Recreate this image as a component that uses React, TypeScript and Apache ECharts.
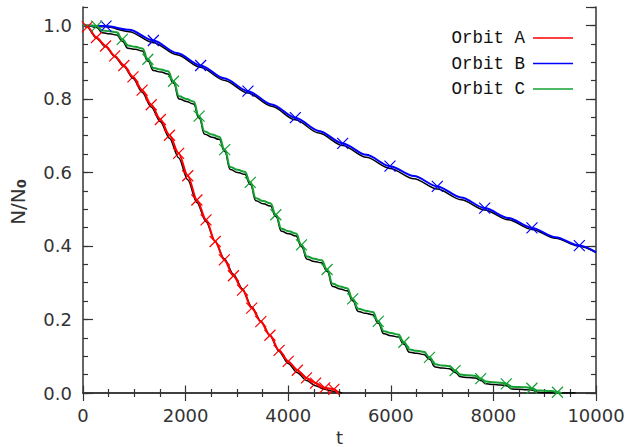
import React, { useEffect, useRef } from "react";
import * as echarts from "echarts";

// ---- data ----
const xTicks = [0, 2000, 4000, 6000, 8000, 10000];
const yTicks = [0.0, 0.2, 0.4, 0.6, 0.8, 1.0];
const legendNames = ["Orbit A", "Orbit B", "Orbit C"];

// Orbit A (red) curve and its markers
const orbitA: [number, number][] = [
  [0, 1.0], [84, 0.996], [262, 0.967], [440, 0.944], [618, 0.917], [796, 0.891],
  [974, 0.86], [1152, 0.824], [1330, 0.784], [1508, 0.744], [1686, 0.701],
  [1864, 0.652], [2042, 0.591], [2220, 0.525], [2398, 0.471], [2576, 0.412],
  [2754, 0.362], [2932, 0.319], [3110, 0.28], [3288, 0.231], [3466, 0.194],
  [3644, 0.157], [3822, 0.116], [4000, 0.086], [4178, 0.062], [4356, 0.041],
  [4534, 0.027], [4712, 0.014], [4890, 0.01], [4980, 0.0],
];
const orbitAMarkers: [number, number][] = [
  [84, 0.996], [262, 0.967], [440, 0.944], [618, 0.917], [796, 0.891],
  [974, 0.86], [1152, 0.824], [1330, 0.784], [1508, 0.744], [1686, 0.701],
  [1864, 0.652], [2042, 0.591], [2220, 0.525], [2398, 0.471], [2576, 0.412],
  [2754, 0.362], [2932, 0.319], [3110, 0.28], [3288, 0.231], [3466, 0.194],
  [3644, 0.157], [3822, 0.116], [4000, 0.086], [4178, 0.062], [4356, 0.041],
  [4534, 0.027], [4712, 0.014], [4890, 0.01],
];
const refA: [number, number][] = [
  [0, 1.0], [84, 0.995], [262, 0.965], [440, 0.942], [618, 0.915], [796, 0.888],
  [974, 0.856], [1152, 0.818], [1330, 0.778], [1508, 0.738], [1686, 0.693],
  [1864, 0.64], [2042, 0.58], [2220, 0.518], [2398, 0.466], [2576, 0.412],
  [2754, 0.365], [2932, 0.323], [3110, 0.283], [3288, 0.234], [3466, 0.196],
  [3644, 0.156], [3822, 0.113], [4000, 0.08], [4178, 0.055], [4356, 0.034],
  [4534, 0.02], [4712, 0.01], [4890, 0.004], [5050, 0.0],
];

// Orbit B (blue)
const orbitB: [number, number][] = [
  [0, 1.0], [448, 0.998], [900, 0.988], [1371, 0.959], [1830, 0.925], [2293, 0.891],
  [2750, 0.856], [3216, 0.821], [3680, 0.785], [4139, 0.749], [4600, 0.713],
  [5062, 0.679], [5520, 0.648], [5984, 0.617], [6450, 0.59], [6907, 0.562],
  [7370, 0.532], [7830, 0.503], [8290, 0.476], [8752, 0.449], [9210, 0.424],
  [9675, 0.401], [10000, 0.383],
];
const orbitBMarkers: [number, number][] = [
  [448, 0.998], [1371, 0.959], [2293, 0.891], [3216, 0.821], [4139, 0.749],
  [5062, 0.679], [5984, 0.617], [6907, 0.562], [7830, 0.503], [8752, 0.449],
  [9675, 0.401],
];
const refB: [number, number][] = [
  [0, 1.0], [448, 0.996], [900, 0.983], [1371, 0.953], [1830, 0.92], [2293, 0.886],
  [2750, 0.851], [3216, 0.816], [3680, 0.78], [4139, 0.743], [4600, 0.707],
  [5062, 0.673], [5520, 0.641], [5984, 0.611], [6450, 0.583], [6907, 0.555],
  [7370, 0.526], [7830, 0.498], [8290, 0.471], [8752, 0.445], [9210, 0.421],
  [9675, 0.399], [10000, 0.382],
];

// Orbit C (green), step-like decay
const orbitC: [number, number][] = [
  [0, 1.0], [130, 1.0], [267, 0.998],
  [377, 0.986], [517, 0.984], [657, 0.981], [766, 0.962],
  [876, 0.945], [1016, 0.942], [1156, 0.937], [1265, 0.908],
  [1375, 0.884], [1515, 0.88], [1655, 0.875], [1764, 0.848],
  [1874, 0.807], [2014, 0.8], [2154, 0.793], [2263, 0.753],
  [2373, 0.711], [2513, 0.703], [2653, 0.697], [2762, 0.662],
  [2872, 0.615], [3012, 0.607], [3152, 0.602], [3261, 0.573],
  [3371, 0.53], [3511, 0.522], [3651, 0.516], [3760, 0.485],
  [3870, 0.447], [4010, 0.44], [4150, 0.434], [4259, 0.403],
  [4369, 0.371], [4509, 0.365], [4649, 0.361], [4758, 0.336],
  [4868, 0.297], [5008, 0.29], [5148, 0.285], [5257, 0.256],
  [5367, 0.229], [5507, 0.224], [5647, 0.22], [5756, 0.195],
  [5866, 0.168], [6006, 0.163], [6146, 0.159], [6255, 0.138],
  [6365, 0.118], [6505, 0.115], [6645, 0.112], [6754, 0.097],
  [6864, 0.078], [7004, 0.075], [7144, 0.073], [7253, 0.061],
  [7363, 0.05], [7503, 0.048], [7643, 0.047], [7752, 0.039],
  [7862, 0.031], [8002, 0.029], [8142, 0.028], [8251, 0.025],
  [8361, 0.017], [8501, 0.016], [8641, 0.0155], [8750, 0.013],
  [8860, 0.007], [9000, 0.006], [9140, 0.0054], [9249, 0.002], [9330, 0.0],
];
const orbitCMarkers: [number, number][] = [
  [267, 0.998], [766, 0.962], [1265, 0.908], [1764, 0.848], [2263, 0.753],
  [2762, 0.662], [3261, 0.573], [3760, 0.485], [4259, 0.403], [4758, 0.336],
  [5257, 0.256], [5756, 0.195], [6255, 0.138], [6754, 0.097], [7253, 0.061],
  [7752, 0.039], [8251, 0.025], [8750, 0.013], [9249, 0.002],
];
const refC: [number, number][] = [
  [0, 1.0], [130, 0.998], [267, 0.994],
  [377, 0.98], [517, 0.977], [657, 0.974], [766, 0.957],
  [876, 0.938], [1016, 0.935], [1156, 0.93], [1265, 0.903],
  [1375, 0.877], [1515, 0.873], [1655, 0.868], [1764, 0.843],
  [1874, 0.8], [2014, 0.793], [2154, 0.786], [2263, 0.748],
  [2373, 0.704], [2513, 0.696], [2653, 0.69], [2762, 0.657],
  [2872, 0.608], [3012, 0.6], [3152, 0.595], [3261, 0.568],
  [3371, 0.523], [3511, 0.515], [3651, 0.509], [3760, 0.48],
  [3870, 0.44], [4010, 0.433], [4150, 0.427], [4259, 0.398],
  [4369, 0.364], [4509, 0.358], [4649, 0.354], [4758, 0.331],
  [4868, 0.29], [5008, 0.283], [5148, 0.278], [5257, 0.251],
  [5367, 0.222], [5507, 0.217], [5647, 0.213], [5756, 0.19],
  [5866, 0.161], [6006, 0.156], [6146, 0.152], [6255, 0.133],
  [6365, 0.111], [6505, 0.108], [6645, 0.105], [6754, 0.092],
  [6864, 0.071], [7004, 0.068], [7144, 0.066], [7253, 0.056],
  [7363, 0.044], [7503, 0.042], [7643, 0.041], [7752, 0.034],
  [7862, 0.025], [8002, 0.023], [8142, 0.022], [8251, 0.02],
  [8361, 0.011], [8501, 0.01], [8641, 0.009], [8750, 0.008],
  [8860, 0.002], [9000, 0.001], [9140, 0.0005], [9249, 0.0], [9600, 0.0],
];

const RED = "#ff0000";
const BLUE = "#0000ff";
const GREEN = "#14a032";
const AXIS = "#333333";
const CROSS = "path://M0,0L10,10M10,0L0,10";

export default function App() {
  const ref = useRef<HTMLDivElement>(null);

  useEffect(() => {
    if (!ref.current) return;
    const chart = echarts.init(ref.current, undefined, { renderer: "svg" });

    const xBase = {
      type: "value" as const,
      min: xTicks[0],
      max: xTicks[xTicks.length - 1],
      interval: 2000,
      splitLine: { show: false },
      axisLine: { show: true, lineStyle: { color: AXIS, width: 1.5 } },
      minorTick: { show: true, splitNumber: 4, length: 4, lineStyle: { color: AXIS, width: 1.2 } },
    };
    const yMajor = {
      type: "value" as const,
      min: 0,
      max: 1.05,
      interval: 0.2,
      splitLine: { show: false },
      axisLine: { show: true, lineStyle: { color: AXIS, width: 1.5 } },
      axisTick: { show: true, inside: true, length: 10, lineStyle: { color: AXIS, width: 1.2 } },
    };
    const yMinor = {
      type: "value" as const,
      min: 0,
      max: 1.05,
      interval: 0.05,
      splitLine: { show: false },
      axisLine: { show: false },
      axisLabel: { show: false },
      axisTick: { show: true, inside: true, length: 5, lineStyle: { color: AXIS, width: 1.2 } },
    };

    const line = (name: string, data: [number, number][], color: string, width: number, smooth = 0.3) => ({
      name,
      type: "line",
      data,
      color,
      showSymbol: false,
      symbol: "none",
      smooth,
      smoothMonotone: "x",
      lineStyle: { color, width },
      itemStyle: { color },
      z: 2,
    });
    const marks = (name: string, data: [number, number][], color: string) => ({
      name,
      type: "scatter",
      data,
      symbol: CROSS,
      symbolSize: 11,
      itemStyle: { color: "transparent", borderColor: color, borderWidth: 1.2, opacity: 1 },
      z: 4,
    });

    chart.setOption({
      animation: false,
      backgroundColor: "#ffffff",
      grid: { left: 83, right: 43, top: 7, bottom: 54, outerBoundsMode: "none" },
      legend: {
        data: legendNames,
        orient: "vertical",
        right: 61,
        top: 24,
        align: "right",
        icon: "rect",
        itemWidth: 40,
        itemHeight: 1.5,
        itemGap: 7.5,
        textStyle: { fontFamily: "Liberation Mono", fontSize: 17.5, color: "#111", padding: [0, 3, 0, 0] },
      },
      xAxis: [
        {
          ...xBase,
          position: "bottom",
          name: "t",
          nameLocation: "middle",
          nameGap: 27,
          nameTextStyle: { fontFamily: "DejaVu Sans", fontSize: 18, color: AXIS },
          axisTick: { show: true, inside: true, length: 7.5, lineStyle: { color: AXIS, width: 1.2 } },
          axisLabel: {
            show: true,
            margin: 13,
            fontFamily: "DejaVu Sans",
            fontSize: 18,
            color: AXIS,
            formatter: (v: number) => String(v),
          },
        },
        {
          ...xBase,
          position: "top",
          axisTick: { show: true, inside: true, length: 8, lineStyle: { color: AXIS, width: 1.2 } },
          axisLabel: { show: false },
        },
      ],
      yAxis: [
        {
          ...yMajor,
          position: "left",
          axisLabel: {
            show: true,
            margin: 11,
            showMaxLabel: false,
            fontFamily: "DejaVu Sans",
            fontSize: 18,
            color: AXIS,
            formatter: (v: number) => (yTicks.some((t) => Math.abs(t - v) < 1e-6) ? v.toFixed(1) : ""),
          },
        },
        { ...yMinor, position: "left" },
        { ...yMajor, position: "right", axisLabel: { show: false } },
        { ...yMinor, position: "right" },
      ],
      graphic: [
        {
          type: "text",
          x: 18,
          y: 202,
          rotation: Math.PI / 2,
          style: {
            text: "{n|N/N}{s|0}",
            align: "center",
            verticalAlign: "middle",
            fill: AXIS,
            rich: {
              n: { fontFamily: "DejaVu Sans", fontSize: 20, fill: AXIS, verticalAlign: "bottom" },
              s: { fontFamily: "DejaVu Sans", fontSize: 13, fontWeight: "bold", fill: AXIS, verticalAlign: "bottom" },
            },
          },
        },
      ],
      series: [
        { ...line("Reference A", refA, "#000000", 1.5), z: 1 },
        { ...line("Reference B", refB, "#000000", 1.5), z: 1 },
        { ...line("Reference C", refC, "#000000", 1.5, 0.5), z: 1 },
        line("Orbit A", orbitA, RED, 2),
        line("Orbit B", orbitB, BLUE, 2),
        line("Orbit C", orbitC, GREEN, 2, 0.5),
        marks("Orbit A markers", orbitAMarkers, RED),
        marks("Orbit B markers", orbitBMarkers, BLUE),
        marks("Orbit C markers", orbitCMarkers, GREEN),
      ],
    });

    return () => chart.dispose();
  }, []);

  return (
    <div
      ref={ref}
      style={{ position: "fixed", left: 0, top: 0, width: 639, height: 447, background: "#fff" }}
    />
  );
}
